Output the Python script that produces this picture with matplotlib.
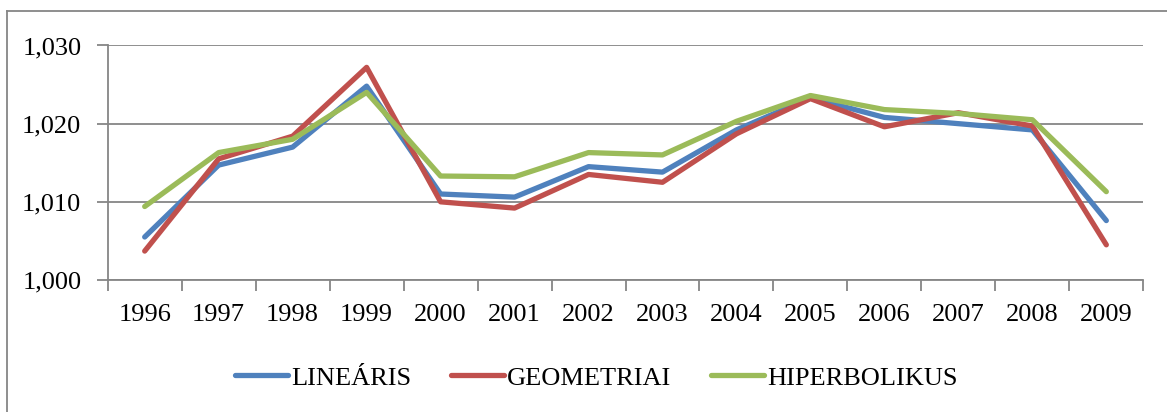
import matplotlib.pyplot as plt
from matplotlib.lines import Line2D
from matplotlib.ticker import FuncFormatter, FixedLocator

## data ##
years = ['1996', '1997', '1998', '1999', '2000', '2001', '2002',
         '2003', '2004', '2005', '2006', '2007', '2008', '2009']
linearis = [1.0055, 1.0147, 1.0170, 1.0248, 1.0110, 1.0106, 1.0145,
            1.0138, 1.0192, 1.0233, 1.0208, 1.0200, 1.0192, 1.0076]
geometriai = [1.0037, 1.0155, 1.0184, 1.0272, 1.0100, 1.0092, 1.0135,
              1.0125, 1.0187, 1.0232, 1.0196, 1.0214, 1.0197, 1.0045]
hiperbolikus = [1.0094, 1.0163, 1.0180, 1.0240, 1.0133, 1.0132, 1.0163,
                1.0160, 1.0203, 1.0236, 1.0218, 1.0213, 1.0205, 1.0113]
series_names = ['LINEÁRIS', 'GEOMETRIAI', 'HIPERBOLIKUS']

plt.rcParams['font.family'] = 'Liberation Serif'
axis_grey = '#868686'
fs = 19

fig = plt.figure(figsize=(11.67, 4.12), dpi=100)
ax = fig.add_axes([0.0923, 0.3204, 0.8874, 0.5692])

x = range(len(years))
ax.plot(x, linearis, color='#4F81BD', lw=3.8, solid_capstyle='round', label=series_names[0])
ax.plot(x, geometriai, color='#C0504D', lw=3.8, solid_capstyle='round', label=series_names[1])
ax.plot(x, hiperbolikus, color='#9BBB59', lw=3.8, solid_capstyle='round', label=series_names[2])

ax.set_xlim(-0.5, len(years) - 0.5)
ax.set_ylim(1.000, 1.030)

# category labels centred, tick marks between categories
ax.set_xticks(list(x))
ax.set_xticklabels(years, fontsize=fs)
ax.xaxis.set_minor_locator(FixedLocator([i - 0.5 for i in range(len(years) + 1)]))
ax.tick_params(axis='x', which='major', length=0, pad=17)
ax.tick_params(axis='x', which='minor', length=8, width=1.3, color=axis_grey, direction='out')

ax.set_yticks([1.000, 1.010, 1.020, 1.030])
ax.yaxis.set_major_formatter(FuncFormatter(lambda v, p: f"{v:.3f}".replace('.', ',')))
ax.tick_params(axis='y', length=8, width=1.3, color=axis_grey, labelsize=fs, pad=11)

ax.grid(axis='y', color=axis_grey, lw=1.3)
ax.set_axisbelow(True)
for side in ['top', 'right']:
    ax.spines[side].set_visible(False)
for side in ['left', 'bottom']:
    ax.spines[side].set_color(axis_grey)
    ax.spines[side].set_linewidth(1.3)

leg = fig.legend(loc='center', bbox_to_anchor=(0.511, 0.083), ncol=3, frameon=False,
                 fontsize=fs, handlelength=2.0, handletextpad=0.12, columnspacing=1.5)

# chart border (top and left edges)
fig.add_artist(Line2D([7 / 1167, 1.0], [1 - 11 / 412, 1 - 11 / 412], transform=fig.transFigure,
                      color=axis_grey, lw=1.3))
fig.add_artist(Line2D([7 / 1167, 7 / 1167], [0.0, 1 - 11 / 412], transform=fig.transFigure,
                      color=axis_grey, lw=1.3))

plt.savefig('out.png', dpi=100)
